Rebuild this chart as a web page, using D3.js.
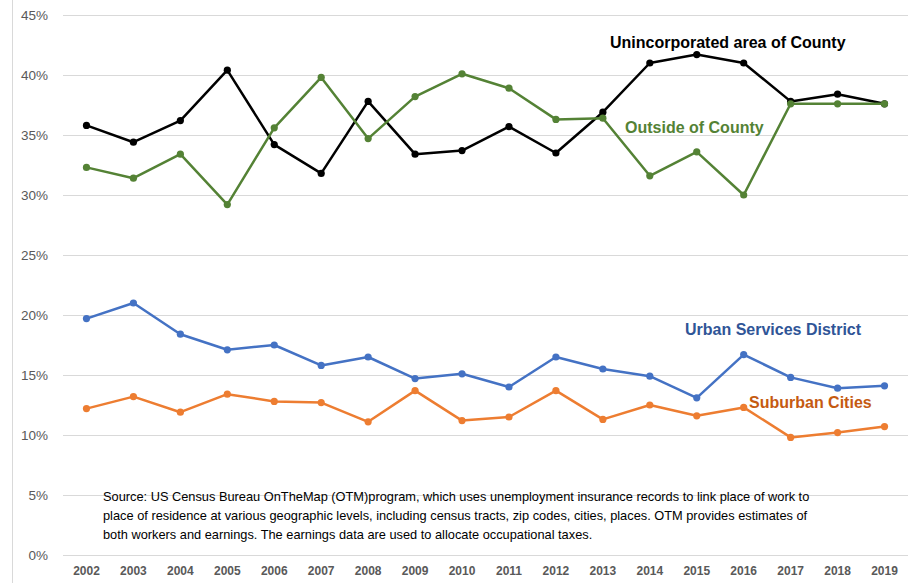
<!DOCTYPE html>
<html>
<head>
<meta charset="utf-8">
<script src="https://cdn.jsdelivr.net/npm/d3@7"></script>
<style>
  body { margin: 0; background: #fff; }
  svg { display: block; font-family: "Liberation Sans", Arial, sans-serif; }
</style>
</head>
<body>
<svg id="chart" width="918" height="583"></svg>
<script>
var years = ["2002","2003","2004","2005","2006","2007","2008","2009","2010",
             "2011","2012","2013","2014","2015","2016","2017","2018","2019"];
var yTicks = [0, 5, 10, 15, 20, 25, 30, 35, 40, 45];

// values in percent
var unincorporated = [35.8, 34.4, 36.2, 40.4, 34.2, 31.8, 37.8, 33.4, 33.7, 35.7, 33.5, 36.9, 41.0, 41.7, 41.0, 37.8, 38.4, 37.6];
var outsideCounty  = [32.3, 31.4, 33.4, 29.2, 35.6, 39.8, 34.7, 38.2, 40.1, 38.9, 36.3, 36.4, 31.6, 33.6, 30.0, 37.6, 37.6, 37.6];
var urbanServices  = [19.7, 21.0, 18.4, 17.1, 17.5, 15.8, 16.5, 14.7, 15.1, 14.0, 16.5, 15.5, 14.9, 13.1, 16.7, 14.8, 13.9, 14.1];
var suburbanCities = [12.2, 13.2, 11.9, 13.4, 12.8, 12.7, 11.1, 13.7, 11.2, 11.5, 13.7, 11.3, 12.5, 11.6, 12.3, 9.8, 10.2, 10.7];

var series = [
  { name: "Unincorporated area of County", values: unincorporated, line: "#000000", text: "#000000", lx: 610, ly: 48 },
  { name: "Outside of County", values: outsideCounty, line: "#548235", text: "#548235", lx: 625, ly: 133 },
  { name: "Urban Services District", values: urbanServices, line: "#4472C4", text: "#2F5597", lx: 685, ly: 335 },
  { name: "Suburban Cities", values: suburbanCities, line: "#ED7D31", text: "#C55A11", lx: 749, ly: 408 }
];

var sourceLines = [
  "Source: US Census Bureau OnTheMap (OTM)program, which uses unemployment insurance records to link place of work to",
  "place of residence at various geographic levels, including census tracts, zip codes, cities, places. OTM provides estimates of",
  "both workers and earnings. The earnings data are used to allocate occupational taxes."
];

var svg = d3.select("#chart");
var plotLeft = 63, plotRight = 908, plotTop = 15, plotBottom = 555;

var x = d3.scaleBand().domain(years).range([plotLeft, plotRight]);
var y = d3.scaleLinear().domain([0, 45]).range([plotBottom, plotTop]);

// chart border on the left
svg.append("line")
  .attr("x1", 12.5).attr("x2", 12.5)
  .attr("y1", 0).attr("y2", 583)
  .attr("stroke", "#d9d9d9").attr("stroke-width", 1);

// gridlines
svg.append("g").selectAll("line")
  .data(yTicks)
  .enter().append("line")
  .attr("x1", plotLeft).attr("x2", plotRight)
  .attr("y1", function(d){ return Math.round(y(d)) + 0.5; })
  .attr("y2", function(d){ return Math.round(y(d)) + 0.5; })
  .attr("stroke", "#d9d9d9").attr("stroke-width", 1);

// y axis labels
var yAxis = d3.axisLeft(y).tickValues(yTicks).tickSize(0).tickPadding(0)
  .tickFormat(function(d){ return d + "%"; });
var gy = svg.append("g").attr("transform", "translate(48,0)").call(yAxis);
gy.select(".domain").remove();
gy.selectAll("text")
  .attr("fill", "#595959")
  .style("font-size", "13.5px")
  .style("font-family", "'Liberation Sans', Arial, sans-serif");

// x axis labels
var xAxis = d3.axisBottom(x).tickSize(0).tickPadding(0);
var gx = svg.append("g").attr("transform", "translate(0,566)").call(xAxis);
gx.select(".domain").remove();
gx.selectAll("text")
  .attr("fill", "#595959")
  .style("font-size", "12px")
  .style("font-weight", "bold")
  .style("font-family", "'Liberation Sans', Arial, sans-serif");

var line = d3.line()
  .x(function(d, i){ return x(years[i]) + x.bandwidth() / 2; })
  .y(function(d){ return y(d); });

var groups = svg.append("g").selectAll("g")
  .data(series)
  .enter().append("g");

groups.append("path")
  .attr("d", function(d){ return line(d.values); })
  .attr("fill", "none")
  .attr("stroke", function(d){ return d.line; })
  .attr("stroke-width", 2.5)
  .attr("stroke-linejoin", "round");

groups.each(function(s){
  d3.select(this).selectAll("circle")
    .data(s.values)
    .enter().append("circle")
    .attr("cx", function(d, i){ return x(years[i]) + x.bandwidth() / 2; })
    .attr("cy", function(d){ return y(d); })
    .attr("r", 3.6)
    .attr("fill", s.line);
});

// series labels
groups.append("text")
  .attr("x", function(d){ return d.lx; })
  .attr("y", function(d){ return d.ly; })
  .attr("fill", function(d){ return d.text; })
  .style("font-size", "16px")
  .style("font-weight", "bold")
  .text(function(d){ return d.name; });

// source note
svg.append("g").selectAll("text")
  .data(sourceLines)
  .enter().append("text")
  .attr("x", 103)
  .attr("y", function(d, i){ return 501 + i * 19; })
  .attr("fill", "#000")
  .style("font-size", "12.8px")
  .text(function(d){ return d; });
</script>
</body>
</html>
